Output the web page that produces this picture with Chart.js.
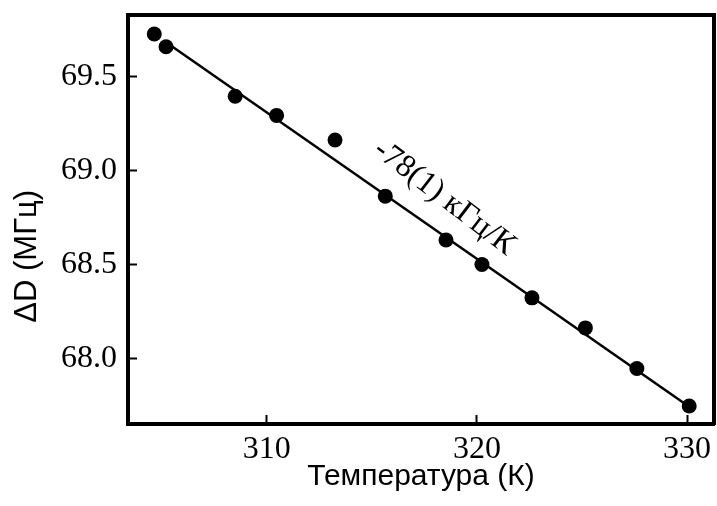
<!DOCTYPE html>
<html>
<head>
<meta charset="utf-8">
<script src="https://cdn.jsdelivr.net/npm/chart.js@4/dist/chart.umd.min.js"></script>
<style>
  html, body { margin: 0; padding: 0; background: #fff; }
  #wrap { width: 717px; height: 506px; position: relative; }
</style>
</head>
<body>
<div id="wrap"><canvas id="chart"></canvas></div>
<script>
// measured points (K, MHz)
const temps  = [304.65, 305.21, 308.50, 310.47, 313.25, 315.64, 318.53, 320.24, 322.62, 325.16, 327.61, 330.10];
const shifts = [69.728, 69.660, 69.396, 69.294, 69.163, 68.864, 68.630, 68.500, 68.322, 68.162, 67.946, 67.746];

// linear fit end points
const fitTemps  = [305.21, 330.10];
const fitShifts = [69.684, 67.742];

const xTicks = [310, 320, 330];
const yTicks = [68.0, 68.5, 69.0, 69.5];

const xTitle = 'Температура (К)';
const yTitle = 'ΔD (МГц)';
const slopeLabel = '-78(1) кГц/К';

const serif = "'Liberation Serif', 'Times New Roman', serif";
const sans  = "'Liberation Sans', Arial, sans-serif";

Chart.defaults.color = '#000';

// y title and slope text drawn on the canvas
const extraText = {
  id: 'extraText',
  afterDatasetsDraw(chart) {
    const { ctx, chartArea, scales } = chart;
    ctx.save();
    ctx.fillStyle = '#000';

    ctx.font = '31px ' + sans;
    ctx.textAlign = 'center';
    ctx.textBaseline = 'middle';
    ctx.save();
    ctx.translate(27.5, chartArea.top + (chartArea.bottom - chartArea.top) * 0.59);
    ctx.rotate(-Math.PI / 2);
    ctx.fillText(yTitle, 0, 0);
    ctx.restore();

    ctx.font = '32px ' + serif;
    ctx.translate(scales.x.getPixelForValue(318.45), scales.y.getPixelForValue(68.855));
    ctx.rotate(37.5 * Math.PI / 180);
    ctx.fillText(slopeLabel, 0, 0);
    ctx.restore();
  }
};

const tickGrid = { drawOnChartArea: false, tickLength: -9, tickWidth: 2, color: '#000' };
const frame = { width: 4, color: '#000' };

// fixed axis sizes, no extra label padding pushed into the layout
const fixSize = (w, h) => s => {
  if (w !== null) s.width = w;
  if (h !== null) s.height = h;
  s.paddingTop = 0; s.paddingBottom = 0; s.paddingLeft = 0; s.paddingRight = 0;
};

new Chart(document.getElementById('chart'), {
  type: 'scatter',
  data: {
    datasets: [
      {
        data: temps.map((t, i) => ({ x: t, y: shifts[i] })),
        backgroundColor: '#000',
        borderColor: '#000',
        pointRadius: 7.5,
        pointBorderWidth: 0,
        order: 1
      },
      {
        data: fitTemps.map((t, i) => ({ x: t, y: fitShifts[i] })),
        showLine: true,
        borderColor: '#000',
        borderWidth: 2.5,
        pointRadius: 0,
        order: 2
      }
    ]
  },
  options: {
    animation: false,
    responsive: true,
    maintainAspectRatio: false,
    layout: { autoPadding: false, padding: { top: 15, right: 3, left: 0, bottom: 0 } },
    plugins: { legend: { display: false }, tooltip: { enabled: false } },
    scales: {
      x: {
        type: 'linear',
        position: 'bottom',
        min: 303.4,
        max: 331.28,
        afterBuildTicks: s => { s.ticks = xTicks.map(v => ({ value: v })); },
        afterFit: fixSize(null, 82),
        grid: tickGrid,
        border: frame,
        ticks: { font: { family: serif, size: 32 }, padding: 15, maxRotation: 0 },
        title: {
          display: true,
          text: xTitle,
          font: { family: sans, size: 30 },
          padding: { top: 0, bottom: 11 }
        }
      },
      y: {
        type: 'linear',
        position: 'left',
        min: 67.65,
        max: 69.829,
        afterBuildTicks: s => { s.ticks = yTicks.map(v => ({ value: v })); },
        afterFit: fixSize(128, null),
        grid: tickGrid,
        border: frame,
        ticks: { font: { family: serif, size: 32 }, padding: 20, callback: v => v.toFixed(1) }
      },
      x2: {
        type: 'linear',
        position: 'top',
        afterFit: fixSize(null, 0),
        grid: { drawOnChartArea: false, drawTicks: false },
        border: frame,
        ticks: { display: false }
      },
      y2: {
        type: 'linear',
        position: 'right',
        afterFit: fixSize(0, null),
        grid: { drawOnChartArea: false, drawTicks: false },
        border: frame,
        ticks: { display: false }
      }
    }
  },
  plugins: [extraText]
});
</script>
</body>
</html>
